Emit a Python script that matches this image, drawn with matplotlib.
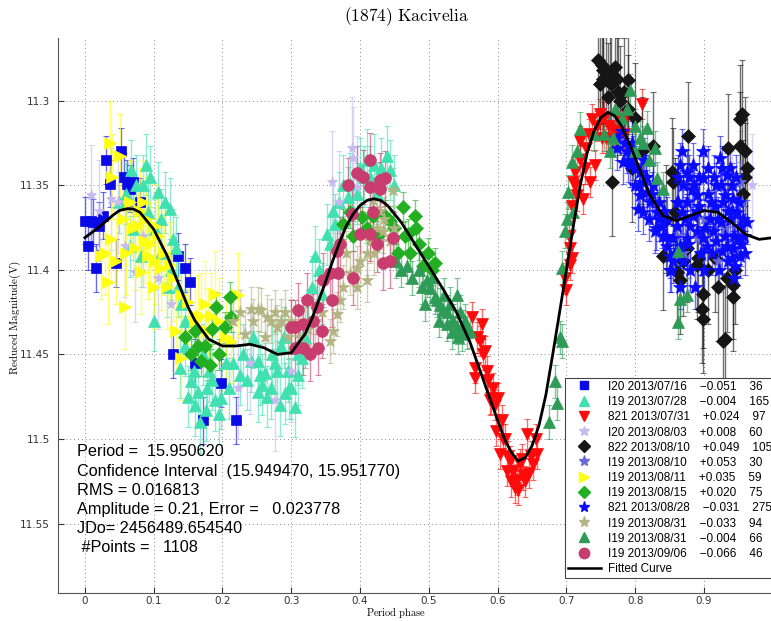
import matplotlib
matplotlib.use("Agg")
import matplotlib.pyplot as plt
from matplotlib.lines import Line2D

plt.rcParams['mathtext.fontset'] = 'cm'

# ---------------- data ----------------
title = "(1874) Kacivelia"
xlabel = "Period phase"
ylabel = "Reduced Magnitude(V)"
xticks = [0, 0.1, 0.2, 0.3, 0.4, 0.5, 0.6, 0.7, 0.8, 0.9]
yticks = [11.3, 11.35, 11.4, 11.45, 11.5, 11.55]
ytick_labels = ["11.3", "11.35", "11.4", "11.45", "11.5", "11.55"]

info_lines = ["Period =  15.950620",
              "Confidence Interval  (15.949470, 15.951770)",
              "RMS = 0.016813",
              "Amplitude = 0.21, Error =   0.023778",
              "JDo= 2456489.654540",
              " #Points =   1108"]

obs_codes = ["I20", "I19", "821", "I20", "822", "I19", "I19", "I19", "821", "I19", "I19", "I19"]
obs_dates = ["2013/07/16", "2013/07/28", "2013/07/31", "2013/08/03", "2013/08/10", "2013/08/10",
             "2013/08/11", "2013/08/15", "2013/08/28", "2013/08/31", "2013/08/31", "2013/09/06"]
obs_offsets = ["\u22120.051", "\u22120.004", "+0.024", "+0.008", "+0.049", "+0.053",
               "+0.035", "+0.020", "\u22120.031", "\u22120.033", "\u22120.004", "\u22120.066"]
obs_counts = [36, 165, 97, 60, 105, 30, 59, 75, 275, 94, 66, 46]
obs_errors = [0.014, 0.018, 0.009, 0.03, 0.032, 0.012, 0.025, 0.009, 0.013, 0.013, 0.01, 0.016]

ph_s1 = [0.031, 0.052, 0.036, 0.062, 0.070, 0.000, 0.009, 0.026, 0.004, 0.016, 0.045, 0.080,
         0.135, 0.145, 0.153, 0.128, 0.198, 0.172, 0.219, 0.160, 0.057, 0.066, 0.012, 0.020]
mg_s1 = [11.335, 11.330, 11.349, 11.349, 11.348, 11.371, 11.371, 11.368, 11.386, 11.399, 11.396, 11.360,
         11.392, 11.399, 11.407, 11.450, 11.467, 11.489, 11.489, 11.455, 11.345, 11.352, 11.372, 11.374]

ph_s2 = [0.089, 0.106, 0.116, 0.124, 0.067, 0.065, 0.081, 0.128, 0.132, 0.092, 0.070, 0.102, 0.110,
         0.138, 0.154, 0.164, 0.176, 0.189, 0.198, 0.241, 0.251, 0.262, 0.276, 0.295, 0.300, 0.305,
         0.270, 0.252, 0.291, 0.334, 0.352, 0.382, 0.385, 0.400, 0.439, 0.443, 0.344, 0.363,
         0.100, 0.145, 0.160, 0.180, 0.210, 0.230, 0.280, 0.285, 0.320, 0.310, 0.050, 0.085,
         0.120, 0.140, 0.415, 0.425, 0.370, 0.390, 0.430, 0.168, 0.185, 0.205, 0.226, 0.258, 0.315,
         0.060, 0.075, 0.095, 0.110, 0.125, 0.135, 0.145, 0.150, 0.158, 0.172, 0.178, 0.195, 0.215,
         0.235, 0.245, 0.255, 0.265, 0.272, 0.283, 0.290, 0.297, 0.310, 0.325, 0.330, 0.340, 0.357,
         0.360, 0.375, 0.395, 0.405, 0.410, 0.420, 0.450]
mg_s2 = [11.338, 11.354, 11.360, 11.364, 11.341, 11.386, 11.392, 11.382, 11.387, 11.366, 11.376, 11.376, 11.370,
         11.458, 11.466, 11.472, 11.483, 11.477, 11.476, 11.454, 11.454, 11.461, 11.455, 11.460, 11.470, 11.481,
         11.470, 11.472, 11.473, 11.392, 11.379, 11.357, 11.349, 11.340, 11.333, 11.341, 11.414, 11.373,
         11.430, 11.430, 11.480, 11.460, 11.470, 11.450, 11.460, 11.445, 11.440, 11.462, 11.360, 11.350,
         11.410, 11.420, 11.345, 11.355, 11.360, 11.365, 11.340, 11.490, 11.465, 11.455, 11.462, 11.468, 11.452,
         11.355, 11.350, 11.345, 11.390, 11.400, 11.410, 11.445, 11.475, 11.460, 11.450, 11.470, 11.485, 11.455,
         11.465, 11.440, 11.462, 11.475, 11.450, 11.480, 11.440, 11.470, 11.450, 11.430, 11.410, 11.400, 11.385,
         11.365, 11.350, 11.355, 11.345, 11.335, 11.338, 11.350]

ph_s3 = [0.562, 0.577, 0.574, 0.581, 0.567, 0.584, 0.567, 0.593, 0.600, 0.591, 0.589, 0.606, 0.603,
         0.618, 0.622, 0.637, 0.642, 0.657, 0.651, 0.632, 0.613, 0.625, 0.628, 0.645, 0.610,
         0.737, 0.749, 0.719, 0.729, 0.712, 0.710, 0.715, 0.708, 0.724, 0.734, 0.741, 0.751,
         0.705, 0.708, 0.705, 0.810, 0.778, 0.788, 0.767, 0.758, 0.698, 0.700,
         0.570, 0.579, 0.586, 0.596, 0.598, 0.608, 0.615, 0.620, 0.635, 0.640, 0.648, 0.655, 0.630,
         0.703, 0.713, 0.720, 0.727, 0.732, 0.745, 0.755, 0.762, 0.772, 0.783]
mg_s3 = [11.428, 11.432, 11.442, 11.448, 11.458, 11.460, 11.464, 11.470, 11.476, 11.476, 11.477, 11.489, 11.509,
         11.513, 11.519, 11.521, 11.497, 11.509, 11.515, 11.515, 11.519, 11.529, 11.524, 11.520, 11.500,
         11.311, 11.308, 11.324, 11.328, 11.342, 11.348, 11.356, 11.362, 11.358, 11.348, 11.338, 11.322,
         11.387, 11.393, 11.397, 11.302, 11.311, 11.309, 11.317, 11.322, 11.405, 11.412,
         11.440, 11.450, 11.465, 11.480, 11.495, 11.500, 11.510, 11.525, 11.512, 11.525, 11.510, 11.500, 11.530,
         11.380, 11.350, 11.335, 11.340, 11.320, 11.315, 11.310, 11.315, 11.318, 11.320]

ph_s4 = [0.009, 0.038, 0.048, 0.058, 0.073, 0.106, 0.359, 0.388, 0.390, 0.395, 0.222, 0.276,
         0.952, 0.020, 0.085, 0.300, 0.940, 0.970, 0.370, 0.125, 0.240, 0.905, 0.880]
mg_s4 = [11.356, 11.358, 11.360, 11.386, 11.401, 11.405, 11.348, 11.328, 11.334, 11.351, 11.470, 11.477,
         11.348, 11.365, 11.380, 11.460, 11.360, 11.350, 11.360, 11.420, 11.455, 11.385, 11.375]

ph_s5 = [0.746, 0.751, 0.753, 0.758, 0.763, 0.773, 0.753, 0.789, 0.760, 0.775, 0.778, 0.766,
         0.795, 0.826, 0.853, 0.855, 0.858, 0.876, 0.935, 0.952, 0.955, 0.952, 0.959, 0.956,
         0.840, 0.860, 0.865, 0.875, 0.891, 0.889, 0.898, 0.897, 0.898, 0.916, 0.933, 0.942,
         0.942, 0.930, 0.927,
         0.748, 0.765, 0.770, 0.783, 0.790, 0.800, 0.810, 0.845, 0.870, 0.905, 0.920, 0.945,
         0.960, 0.962]
mg_s5 = [11.276, 11.279, 11.282, 11.283, 11.285, 11.287, 11.287, 11.288, 11.298, 11.295, 11.300, 11.348,
         11.340, 11.327, 11.342, 11.348, 11.366, 11.321, 11.328, 11.311, 11.308, 11.327, 11.330, 11.355,
         11.392, 11.401, 11.406, 11.387, 11.393, 11.397, 11.414, 11.423, 11.429, 11.393, 11.405, 11.409,
         11.416, 11.441, 11.442,
         11.290, 11.290, 11.280, 11.295, 11.305, 11.310, 11.330, 11.370, 11.395, 11.400, 11.410, 11.400,
         11.345, 11.340]

ph_s6 = [0.889, 0.952, 0.870, 0.880, 0.900, 0.930, 0.945, 0.860, 0.955, 0.920]
mg_s6 = [11.381, 11.348, 11.390, 11.400, 11.370, 11.375, 11.390, 11.380, 11.360, 11.395]

ph_s7 = [0.036, 0.051, 0.033, 0.058, 0.065, 0.080, 0.089, 0.102, 0.106, 0.038, 0.023, 0.045,
         0.077, 0.073, 0.087, 0.092, 0.081, 0.102, 0.110, 0.124, 0.128, 0.150, 0.189, 0.222,
         0.169, 0.183, 0.132, 0.140, 0.164, 0.179, 0.212,
         0.040, 0.055, 0.060, 0.070, 0.085, 0.095, 0.115, 0.120, 0.140, 0.160, 0.175, 0.195,
         0.205, 0.030, 0.100]
mg_s7 = [11.325, 11.333, 11.407, 11.422, 11.360, 11.365, 11.370, 11.374, 11.380, 11.382, 11.392, 11.395,
         11.374, 11.387, 11.383, 11.392, 11.401, 11.395, 11.399, 11.397, 11.405, 11.419, 11.414, 11.415,
         11.427, 11.427, 11.436, 11.452, 11.428, 11.436, 11.442,
         11.345, 11.370, 11.390, 11.375, 11.360, 11.385, 11.390, 11.410, 11.415, 11.430, 11.420, 11.430,
         11.440, 11.390, 11.410]

ph_s8 = [0.190, 0.154, 0.182, 0.169, 0.145, 0.160, 0.203, 0.212, 0.211,
         0.375, 0.403, 0.419, 0.436, 0.462, 0.480, 0.470, 0.482, 0.455, 0.472, 0.491, 0.509,
         0.499, 0.385, 0.443,
         0.175, 0.185, 0.195, 0.165, 0.390, 0.410, 0.425, 0.450, 0.465, 0.485, 0.505]
mg_s8 = [11.422, 11.450, 11.456, 11.454, 11.440, 11.436, 11.434, 11.428, 11.416,
         11.373, 11.369, 11.368, 11.368, 11.363, 11.368, 11.379, 11.375, 11.390, 11.390, 11.398, 11.396,
         11.390, 11.366, 11.371,
         11.445, 11.435, 11.450, 11.445, 11.380, 11.375, 11.380, 11.375, 11.380, 11.385, 11.400]

ph_s9 = [0.773, 0.788, 0.782, 0.797, 0.807, 0.811, 0.817, 0.807, 0.821, 0.826, 0.831, 0.839, 0.840,
         0.846, 0.850, 0.865, 0.875, 0.884, 0.869, 0.882, 0.889, 0.875, 0.868, 0.884, 0.879, 0.889,
         0.875, 0.865, 0.855, 0.908, 0.913, 0.918, 0.926, 0.918, 0.926, 0.933, 0.940, 0.930, 0.942,
         0.948, 0.938, 0.952, 0.949, 0.942, 0.933, 0.923, 0.916, 0.898, 0.952, 0.940, 0.904, 0.898,
         0.828, 0.846, 0.860, 0.799, 0.804, 0.811, 0.773, 0.780, 0.870, 0.893, 0.905, 0.935, 0.958,
         0.962, 0.945, 0.925, 0.895, 0.878, 0.862, 0.852, 0.835, 0.815, 0.792,
         0.785, 0.790, 0.800, 0.805, 0.815, 0.820, 0.825, 0.830, 0.835, 0.845, 0.850, 0.855, 0.860,
         0.862, 0.868, 0.872, 0.876, 0.880, 0.885, 0.887, 0.890, 0.893, 0.896, 0.900, 0.902, 0.906,
         0.910, 0.912, 0.915, 0.920, 0.922, 0.928, 0.930, 0.935, 0.937, 0.940, 0.944, 0.947, 0.950,
         0.953, 0.956, 0.960, 0.943, 0.925, 0.898, 0.865, 0.858, 0.842, 0.812, 0.795]
mg_s9 = [11.328, 11.330, 11.336, 11.334, 11.342, 11.348, 11.354, 11.356, 11.360, 11.350, 11.366, 11.374, 11.380,
         11.386, 11.392, 11.338, 11.342, 11.338, 11.350, 11.352, 11.356, 11.360, 11.366, 11.368, 11.374, 11.377,
         11.381, 11.386, 11.381, 11.370, 11.377, 11.383, 11.389, 11.350, 11.340, 11.344, 11.350, 11.356, 11.358,
         11.366, 11.370, 11.374, 11.381, 11.387, 11.386, 11.334, 11.362, 11.346, 11.392, 11.393, 11.386, 11.381,
         11.377, 11.370, 11.374, 11.350, 11.364, 11.366, 11.322, 11.318, 11.395, 11.362, 11.355, 11.365, 11.380,
         11.372, 11.398, 11.372, 11.390, 11.345, 11.360, 11.400, 11.370, 11.345, 11.338,
         11.325, 11.335, 11.340, 11.350, 11.345, 11.370, 11.355, 11.375, 11.360, 11.380, 11.400, 11.395, 11.360,
         11.345, 11.330, 11.370, 11.385, 11.400, 11.350, 11.410, 11.365, 11.345, 11.390, 11.400, 11.375, 11.340,
         11.360, 11.390, 11.345, 11.370, 11.400, 11.360, 11.380, 11.395, 11.340, 11.365, 11.380, 11.345, 11.360,
         11.385, 11.370, 11.390, 11.405, 11.350, 11.330, 11.410, 11.390, 11.365, 11.335, 11.325]

ph_s10 = [0.241, 0.251, 0.276, 0.291, 0.256, 0.270, 0.280, 0.262, 0.300, 0.233,
          0.360, 0.371, 0.375, 0.385, 0.395, 0.410, 0.414, 0.424, 0.433, 0.443, 0.419, 0.429,
          0.448, 0.366, 0.356, 0.395, 0.410, 0.215, 0.312, 0.325,
          0.245, 0.265, 0.285, 0.295, 0.320, 0.335, 0.345, 0.380, 0.400, 0.420, 0.435, 0.450, 0.225]
mg_s10 = [11.423, 11.423, 11.425, 11.425, 11.424, 11.430, 11.434, 11.440, 11.430, 11.438,
          11.436, 11.418, 11.410, 11.402, 11.399, 11.390, 11.383, 11.375, 11.377, 11.383, 11.359, 11.365,
          11.353, 11.426, 11.442, 11.410, 11.406, 11.430, 11.440, 11.435,
          11.430, 11.428, 11.430, 11.440, 11.445, 11.430, 11.425, 11.390, 11.395, 11.390, 11.370, 11.375, 11.425]

ph_s11 = [0.501, 0.509, 0.516, 0.526, 0.533, 0.541, 0.548, 0.555, 0.526, 0.533, 0.542, 0.541,
          0.497, 0.506, 0.512, 0.520, 0.535, 0.549, 0.560,
          0.719, 0.708, 0.702, 0.701, 0.698, 0.693, 0.709, 0.763, 0.767, 0.788, 0.792, 0.799,
          0.817, 0.828, 0.807, 0.811, 0.831, 0.840, 0.862, 0.875, 0.865, 0.862, 0.690, 0.683,
          0.686, 0.693,
          0.452, 0.460, 0.468, 0.475, 0.485, 0.490, 0.495, 0.515, 0.522, 0.530, 0.545, 0.552,
          0.675, 0.715, 0.740, 0.755, 0.770, 0.780, 0.800, 0.820]
mg_s11 = [11.411, 11.416, 11.421, 11.425, 11.430, 11.434, 11.438, 11.437, 11.432, 11.437, 11.440, 11.415,
          11.406, 11.404, 11.418, 11.424, 11.430, 11.434, 11.436,
          11.317, 11.336, 11.354, 11.370, 11.377, 11.399, 11.366, 11.330, 11.322, 11.305, 11.294, 11.315,
          11.316, 11.328, 11.322, 11.325, 11.346, 11.352, 11.389, 11.415, 11.417, 11.431, 11.440, 11.466,
          11.479, 11.442,
          11.395, 11.400, 11.398, 11.405, 11.400, 11.410, 11.420, 11.430, 11.415, 11.420, 11.425, 11.430,
          11.490, 11.330, 11.320, 11.320, 11.305, 11.310, 11.330, 11.335]

ph_s12 = [0.414, 0.395, 0.382, 0.404, 0.414, 0.429, 0.436, 0.429, 0.419, 0.388, 0.400, 0.414,
          0.424, 0.448, 0.433, 0.443, 0.390, 0.371, 0.366, 0.346, 0.356, 0.368, 0.337, 0.359,
          0.323, 0.310, 0.305, 0.317, 0.331, 0.344, 0.305, 0.317, 0.327, 0.339, 0.300]
mg_s12 = [11.335, 11.343, 11.350, 11.345, 11.351, 11.347, 11.346, 11.352, 11.366, 11.367, 11.379, 11.379,
          11.385, 11.381, 11.396, 11.395, 11.405, 11.385, 11.389, 11.406, 11.402, 11.402, 11.422, 11.418,
          11.418, 11.424, 11.434, 11.432, 11.430, 11.436, 11.446, 11.446, 11.450, 11.446, 11.434]

curve_ph = [0.00, 0.02, 0.04, 0.05, 0.06, 0.07, 0.08, 0.10, 0.12, 0.13, 0.14, 0.15, 0.16, 0.18, 0.20,
            0.22, 0.24, 0.26, 0.28, 0.30, 0.32, 0.33, 0.34, 0.35, 0.36, 0.37, 0.38, 0.39, 0.40, 0.41,
            0.42, 0.43, 0.44, 0.46, 0.48, 0.50, 0.52, 0.54, 0.56, 0.58, 0.60, 0.61, 0.62, 0.63, 0.64,
            0.65, 0.66, 0.67, 0.68, 0.69, 0.70, 0.71, 0.72, 0.73, 0.74, 0.75, 0.76, 0.77, 0.78, 0.79,
            0.80, 0.82, 0.84, 0.86, 0.88, 0.90, 0.92, 0.94, 0.96, 0.98, 1.00, 1.02, 1.04]
curve_mg = [11.381, 11.375, 11.368, 11.365, 11.364, 11.364, 11.366, 11.376, 11.392, 11.402, 11.412, 11.422,
            11.430, 11.441, 11.445, 11.445, 11.444, 11.446, 11.450, 11.449, 11.438, 11.429, 11.418, 11.407,
            11.395, 11.384, 11.374, 11.367, 11.362, 11.359, 11.358, 11.359, 11.362, 11.372, 11.385, 11.398,
            11.411, 11.425, 11.443, 11.466, 11.489, 11.500, 11.508, 11.513, 11.511, 11.504, 11.492, 11.474,
            11.450, 11.425, 11.400, 11.374, 11.350, 11.331, 11.318, 11.310, 11.307, 11.309, 11.315, 11.324,
            11.334, 11.355, 11.368, 11.371, 11.368, 11.365, 11.366, 11.372, 11.379, 11.382, 11.381, 11.376,
            11.369]

series_ph = [ph_s1, ph_s2, ph_s3, ph_s4, ph_s5, ph_s6, ph_s7, ph_s8, ph_s9, ph_s10, ph_s11, ph_s12]
series_mg = [mg_s1, mg_s2, mg_s3, mg_s4, mg_s5, mg_s6, mg_s7, mg_s8, mg_s9, mg_s10, mg_s11, mg_s12]

# ---------------- styles ----------------
markers = ['s', '^', 'v', '*', 'D', '*', '>', 'D', '*', '*', '^', 'o']
colors = ['#0a0ae6', '#40e0b0', '#ff0a0a', '#c8baf0', '#151515', '#6a6ad6', '#ffff10', '#22b022',
          '#0a0aff', '#b4b482', '#2e9b57', '#c83c6e']
msizes = [6.5, 8.5, 8.5, 8, 7, 9.5, 8.5, 7, 10, 9.5, 8.5, 8.5]
leg_msizes = [6, 7.5, 7.5, 7.5, 6, 8, 7.5, 6, 8, 8, 7.5, 7.5]

W, H = 771, 621
fig = plt.figure(figsize=(W / 100, H / 100), dpi=100)
ax_left, ax_right, ax_top, ax_bottom = 58, 808, 38, 593
ax = fig.add_axes([ax_left / W, 1 - ax_bottom / H, (ax_right - ax_left) / W, (ax_bottom - ax_top) / H])
ax.set_xlim(-0.039, 1.051)
ax.set_ylim(11.591, 11.263)

for ph, mg, m, c, ms, e in zip(series_ph, series_mg, markers, colors, msizes, obs_errors):
    ax.errorbar(ph, mg, yerr=e, fmt='none', ecolor=c, alpha=0.6, elinewidth=1.0, capsize=2.5,
                capthick=0.8, zorder=2)
    ax.plot(ph, mg, linestyle='none', marker=m, color=c, markersize=ms, markeredgecolor=c,
            markeredgewidth=0.5, zorder=3)

ax.plot(curve_ph, curve_mg, color='black', linewidth=2.0, zorder=5)

ax.set_xticks(xticks)
ax.set_xticklabels([f"{t:g}" for t in xticks])
ax.set_yticks(yticks)
ax.set_yticklabels(ytick_labels)
ax.tick_params(direction='in', length=4, labelsize=7.5, colors='#333333', pad=6)
ax.tick_params(axis='x', pad=2)
ax.grid(True, linestyle=(0, (1, 3)), color='#888888', linewidth=0.7)
ax.spines['top'].set_visible(False)
ax.spines['right'].set_visible(False)
ax.spines['left'].set_color('#555555')
ax.spines['bottom'].set_color('#555555')

fig.text(407 / W, 1 - 17 / H, r'$\mathrm{(1874)\ Kacivelia}$', ha='center', va='center', fontsize=12.5)
fig.text(396 / W, 1 - 620.5 / H, r'$\mathrm{Period\ phase}$', ha='center', va='bottom', fontsize=7.5)
fig.text(15 / W, 1 - 318 / H, r'$\mathrm{Reduced\ Magnitude(V)}$', ha='center', va='center',
         fontsize=8, rotation=90)

for i, line in enumerate(info_lines):
    fig.text(77 / W, 1 - (452 + i * 19.2) / H, line, ha='left', va='center', fontsize=11.7,
             family='Liberation Sans')

handles = []
labels = []
for code, date, off, n, m, c, ms in zip(obs_codes, obs_dates, obs_offsets, obs_counts, markers, colors, leg_msizes):
    handles.append(Line2D([], [], linestyle='none', marker=m, color=c, markeredgecolor=c, markersize=ms))
    labels.append(f"{code} {date}    {off}    {n}")
handles.append(Line2D([], [], color='black', linewidth=1.8))
labels.append("Fitted Curve")
leg = fig.legend(handles, labels, loc='upper left', bbox_to_anchor=(565 / W, 1 - 378 / H),
                 prop={'family': 'Liberation Sans', 'size': 8.5}, fancybox=False, framealpha=1,
                 edgecolor='#444444', handlelength=2.8, labelspacing=0.27, borderpad=0.25,
                 handletextpad=0.6, borderaxespad=0, handleheight=0.9)
leg.get_frame().set_linewidth(0.8)

fig.savefig("out.png", dpi=100)
